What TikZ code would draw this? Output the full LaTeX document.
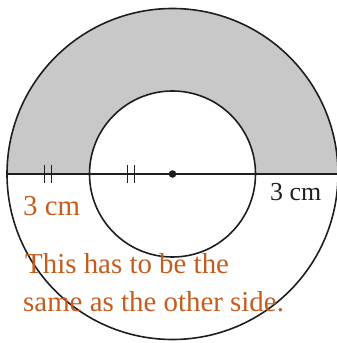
\documentclass[tikz,border=0pt]{standalone}
\usepackage{fontspec}
\setmainfont{Liberation Serif}
\definecolor{note}{RGB}{196,92,30}
\definecolor{fillgray}{RGB}{200,200,200}
\definecolor{ink}{RGB}{30,30,30}
\begin{document}
\begin{tikzpicture}[x=1bp,y=1bp,
  ring/.style={draw=ink,line width=1.6bp},
  tick/.style={draw=ink,line width=1.3bp},
  notetext/.style={text=note,font=\fontsize{29}{38}\selectfont,inner sep=0pt,anchor=base west},
  dimtext/.style={text=ink,font=\fontsize{26}{30}\selectfont,inner sep=0pt,anchor=base west}]
\useasboundingbox (0,0) rectangle (337,343);
\coordinate (c) at (172.5,169);
\coordinate (ol) at (7,169);
\coordinate (or) at (338,169);
\coordinate (il) at (89.5,169);
\coordinate (ir) at (255.5,169);
% shaded upper half annulus
\fill[fillgray] (ol) arc[start angle=180,end angle=0,radius=165.5] -- (ir)
  arc[start angle=0,end angle=180,radius=83] -- cycle;
\draw[ring] (c) circle[radius=165.5];
\draw[ring] (c) circle[radius=83];
\draw[ring] (ol) -- (or);
\fill[ink] (c) circle[radius=3.8];
% tick marks
\foreach \x in {44.5,51.5,127.5,134.5}{
  \draw[tick] (\x,160) -- (\x,178);
}
\node[dimtext] (r3) at (270,143) {3 cm};
\node[notetext] (l3) at (23,128) {3 cm};
\node[notetext] (n1) at (25,70) {This has to be the};
\node[notetext] (n2) at (23,32) {same as the other side.};
\end{tikzpicture}
\end{document}
